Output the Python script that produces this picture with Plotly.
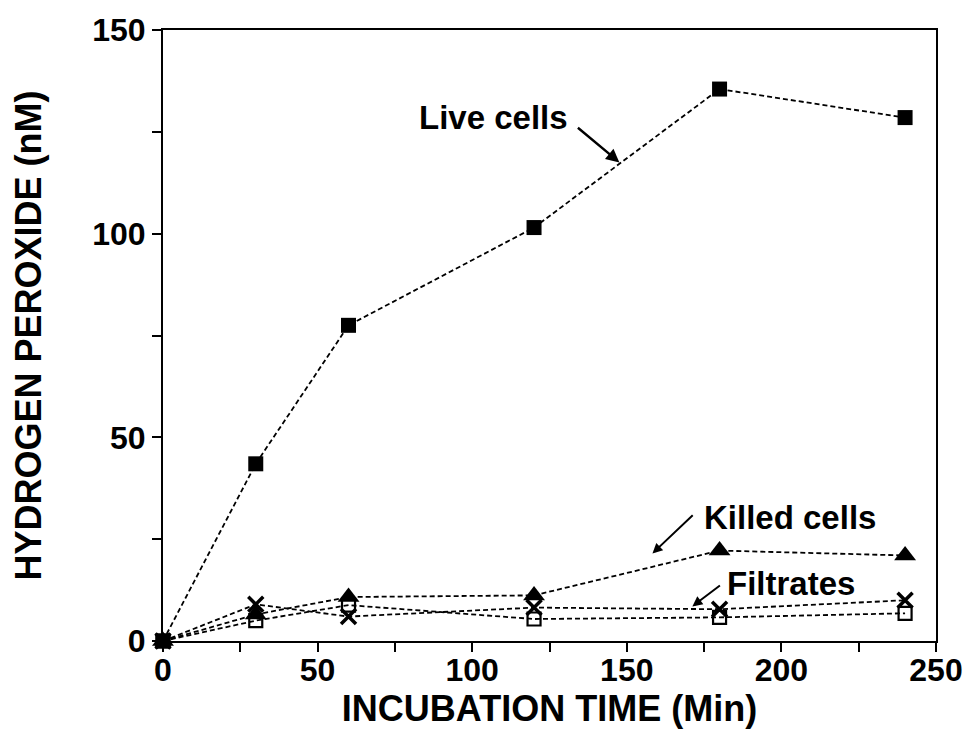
import plotly.graph_objects as go

time_min = [0, 30, 60, 120, 180, 240]
live_cells = [0, 43.5, 77.5, 101.5, 135.5, 128.5]
killed_cells = [0, 6.5, 10.8, 11.2, 22.2, 21.0]
filtrate_x = [0, 9.0, 6.0, 8.2, 7.8, 10.0]
filtrate_sq = [0, 5.0, 8.8, 5.4, 5.8, 6.8]

x_ticks = [0, 50, 100, 150, 200, 250]
y_ticks = [0, 50, 100, 150]

FONT = "Liberation Sans, Arial, sans-serif"
line_style = dict(color="black", width=1.8, dash="5px,3px")

fig = go.Figure()
fig.add_trace(go.Scatter(x=time_min, y=filtrate_sq, mode="lines+markers", line=line_style,
                         marker=dict(symbol="square-open", size=13, color="black", line=dict(width=2.2)),
                         cliponaxis=False, showlegend=False))
fig.add_trace(go.Scatter(x=time_min, y=filtrate_x, mode="lines+markers", line=line_style,
                         marker=dict(symbol="x-thin", size=15, color="black", line=dict(width=3.5, color="black")),
                         cliponaxis=False, showlegend=False))
fig.add_trace(go.Scatter(x=time_min, y=killed_cells, mode="lines+markers", line=line_style,
                         marker=dict(symbol="triangle-up", size=19, color="black"),
                         cliponaxis=False, showlegend=False))
fig.add_trace(go.Scatter(x=time_min, y=live_cells, mode="lines+markers", line=line_style,
                         marker=dict(symbol="square", size=15, color="black"),
                         cliponaxis=False, showlegend=False))

ann_font = dict(family=FONT, size=33, color="black", weight="bold")
fig.add_annotation(x=106.9, y=128.5, text="Live cells", showarrow=False, font=ann_font)
fig.add_annotation(x=147.6, y=117.5, ax=133.7, ay=126.3, axref="x", ayref="y", text="",
                   showarrow=True, arrowhead=2, arrowsize=1.1, arrowwidth=2.4, arrowcolor="black")
fig.add_annotation(x=202.8, y=30.2, text="Killed cells", showarrow=False, font=ann_font)
fig.add_annotation(x=158.3, y=21.5, ax=171.8, ay=31.2, axref="x", ayref="y", text="",
                   showarrow=True, arrowhead=2, arrowsize=1.0, arrowwidth=2.0, arrowcolor="black")
fig.add_annotation(x=203.2, y=14.1, text="Filtrates", showarrow=False, font=ann_font)
fig.add_annotation(x=171.2, y=8.5, ax=180.6, ay=13.9, axref="x", ayref="y", text="",
                   showarrow=True, arrowhead=2, arrowsize=1.0, arrowwidth=2.0, arrowcolor="black")

axis_common = dict(showgrid=False, zeroline=False, showline=True, linecolor="black", linewidth=2,
                   mirror=True, ticks="outside", ticklen=9, tickwidth=1.5, tickcolor="black",
                   tickfont=dict(family=FONT, size=32, color="black", weight="bold"),
                   title_font=dict(family=FONT, size=36, color="black", weight="bold"))

fig.update_xaxes(range=[0, 250], tickvals=x_ticks, title_text="INCUBATION TIME (Min)",
                 title_standoff=2, ticklabelstandoff=-9,
                 minor=dict(dtick=25, ticks="outside", ticklen=9, tickwidth=1.5, tickcolor="black"),
                 **axis_common)
fig.update_yaxes(range=[0, 150], tickvals=y_ticks, title_text="HYDROGEN PEROXIDE (nM)",
                 title_standoff=40,
                 minor=dict(dtick=25, ticks="outside", ticklen=9, tickwidth=1.5, tickcolor="black"),
                 **axis_common)

fig.update_layout(width=975, height=737, margin=dict(l=163, r=37, t=26, b=96),
                  plot_bgcolor="white", paper_bgcolor="white")

fig.write_html("out.html")
